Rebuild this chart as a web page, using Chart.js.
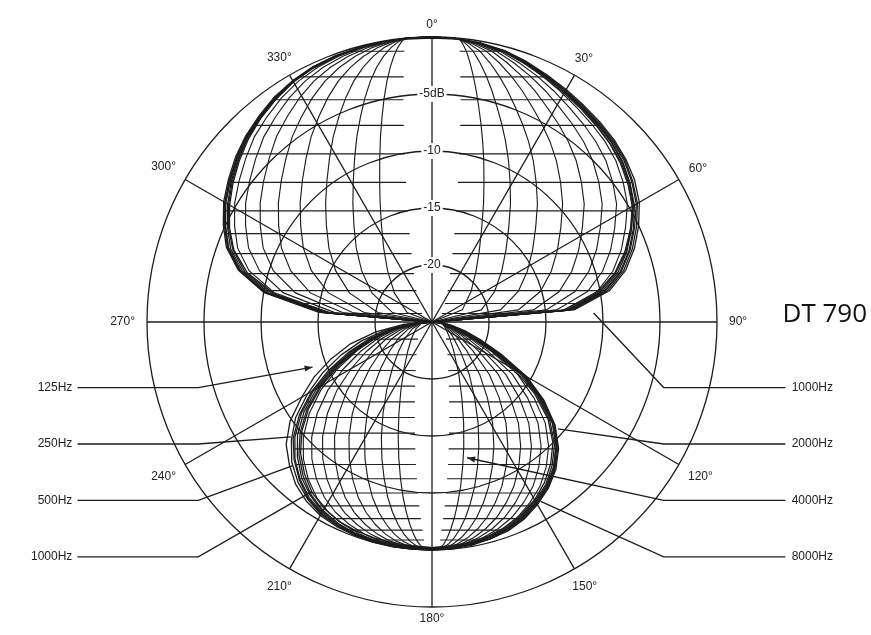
<!DOCTYPE html>
<html><head><meta charset="utf-8">
<script src="https://cdn.jsdelivr.net/npm/chart.js@4.4.1/dist/chart.umd.min.js"></script>
<style>html,body{margin:0;padding:0;background:#fff;overflow:hidden}#wrap{width:871px;height:635px;position:relative}</style>
</head><body><div id="wrap"><canvas id="c" width="871" height="635"></canvas></div>
<script>
// polar angles (degrees, clockwise from 0 = front)
const ANGLES = [0,5,10,15,20,25,30,35,40,45,50,55,60,65,70,75,80,85,90,
  95,100,105,110,115,120,125,130,135,140,145,150,155,160,165,170,175,180,
  185,190,195,200,205,210,215,220,225,230,235,240,245,250,255,260,265,270,
  275,280,285,290,295,300,305,310,315,320,325,330,335,340,345,350,355];

// sensitivity in dB per frequency
const db125 = [0,-0.05,-0.2,-0.45,-0.85,-1.3,-1.7,-2.1,-2.5,-2.9,-3.4,-4.0,-4.7,-5.7,-6.8,-8.1,-9.9,-13,-25,
  -24.5,-24,-23,-21.8,-19.5,-16.6,-14,-11.7,-10,-8.8,-7.8,-7,-6.4,-5.9,-5.6,-5.4,-5.3,-5.2,
  -5.2,-5.1,-5.1,-5.1,-5.2,-5.4,-5.8,-6.4,-7.3,-8.3,-9.8,-11.8,-13.6,-15.6,-17.6,-20,-22.5,-25,
  -15,-10,-7.4,-5.8,-4.8,-3.9,-3.2,-2.5,-1.9,-1.4,-0.9,-0.55,-0.3,-0.15,-0.1,-0.05,0];
const db250 = [0,-0.05,-0.2,-0.4,-0.8,-1.25,-1.65,-2.05,-2.4,-2.75,-3.2,-3.8,-4.5,-5.5,-6.6,-7.9,-9.7,-12.9,-25,
  -24.5,-23.8,-22.8,-21.5,-19.2,-16.2,-13.7,-11.5,-9.8,-8.6,-7.6,-6.9,-6.3,-5.8,-5.5,-5.3,-5.2,-5.1,
  -5.1,-5.1,-5.1,-5.1,-5.3,-5.5,-6.0,-6.7,-7.6,-8.9,-10.4,-12.4,-14.4,-16.5,-18.6,-20.8,-23,-25,
  -15.2,-10.1,-7.5,-5.9,-4.9,-4.0,-3.3,-2.6,-1.95,-1.45,-0.95,-0.6,-0.3,-0.2,-0.1,-0.05,0];
const db500 = [0,-0.05,-0.2,-0.4,-0.75,-1.15,-1.55,-1.9,-2.2,-2.5,-2.9,-3.5,-4.2,-5.2,-6.3,-7.6,-9.4,-12.6,-25,
  -24,-23.5,-22.6,-21.2,-18.8,-15.9,-13.5,-11.2,-9.6,-8.4,-7.5,-6.8,-6.2,-5.7,-5.4,-5.2,-5.1,-5.0,
  -5.0,-5.0,-5.0,-5.1,-5.3,-5.6,-6.1,-6.9,-7.9,-9.1,-10.8,-12.8,-15,-17.2,-19.3,-21.3,-23.3,-25,
  -15.4,-10.2,-7.6,-6.0,-5.0,-4.1,-3.35,-2.65,-2.0,-1.5,-1.0,-0.6,-0.35,-0.2,-0.1,-0.05,0];
const db1000 = [0,-0.05,-0.2,-0.4,-0.8,-1.2,-1.6,-2.0,-2.3,-2.6,-3.0,-3.6,-4.3,-5.4,-6.5,-7.8,-9.6,-12.8,-25,
  -24.5,-24,-23,-21.5,-19,-15.8,-13.4,-11.2,-9.6,-8.4,-7.4,-6.7,-6.1,-5.7,-5.4,-5.2,-5.1,-5.1,
  -5.1,-5.1,-5.1,-5.2,-5.4,-5.7,-6.2,-7.0,-8.0,-9.3,-11,-13,-15.3,-17.5,-19.5,-21.5,-23.5,-25,
  -15.5,-10.3,-7.6,-6.0,-5.0,-4.1,-3.4,-2.7,-2.0,-1.5,-1.0,-0.6,-0.35,-0.2,-0.1,-0.05,0];
const db2000 = [0,-0.05,-0.15,-0.35,-0.7,-1.1,-1.45,-1.8,-2.1,-2.4,-2.8,-3.3,-4.0,-5.0,-6.1,-7.4,-9.2,-12.4,-25,
  -24.3,-23.6,-22.5,-21,-18.5,-15.5,-13.1,-11.0,-9.4,-8.2,-7.3,-6.6,-6.0,-5.6,-5.3,-5.1,-5.0,-5.0,
  -5.0,-5.0,-5.1,-5.2,-5.5,-5.8,-6.4,-7.2,-8.3,-9.6,-11.3,-13.3,-15.6,-17.8,-19.8,-21.7,-23.6,-25,
  -15.7,-10.5,-7.8,-6.2,-5.2,-4.3,-3.5,-2.8,-2.1,-1.55,-1.05,-0.65,-0.35,-0.2,-0.1,-0.05,0];
const db4000 = [0,-0.05,-0.2,-0.45,-0.85,-1.25,-1.65,-2.0,-2.35,-2.7,-3.15,-3.8,-4.6,-5.7,-6.9,-8.3,-10.1,-13.2,-25,
  -24.2,-23.4,-22.3,-20.8,-18.6,-15.6,-13.2,-11.0,-9.5,-8.3,-7.3,-6.6,-6.0,-5.6,-5.3,-5.2,-5.1,-5.1,
  -5.1,-5.2,-5.2,-5.3,-5.5,-5.9,-6.5,-7.4,-8.5,-9.9,-11.6,-13.6,-15.8,-18,-20,-21.9,-23.7,-25,
  -16,-10.8,-8.0,-6.4,-5.3,-4.4,-3.6,-2.85,-2.15,-1.6,-1.1,-0.65,-0.4,-0.2,-0.1,-0.05,0];
const db8000 = [-0.1,-0.1,-0.25,-0.5,-0.9,-1.4,-1.8,-2.2,-2.55,-2.9,-3.3,-3.9,-4.7,-5.8,-7.0,-8.4,-10.3,-13.5,-25,
  -24,-23.2,-22,-20.5,-18.3,-15.4,-13.0,-10.9,-9.3,-8.1,-7.2,-6.5,-5.9,-5.5,-5.3,-5.2,-5.2,-5.2,
  -5.3,-5.3,-5.4,-5.5,-5.7,-6.1,-6.7,-7.6,-8.7,-10.1,-11.8,-13.8,-16,-18.2,-20.2,-22,-23.8,-25,
  -16.2,-11,-8.2,-6.5,-5.4,-4.5,-3.7,-2.95,-2.25,-1.65,-1.15,-0.7,-0.4,-0.25,-0.15,-0.1,-0.1];

const FREQS = ['125Hz','250Hz','500Hz','1000Hz','2000Hz','4000Hz','8000Hz'];
const SERIES = [db125, db250, db500, db1000, db2000, db4000, db8000];

// axis labels
const DEGREE_LABELS = [0,30,60,90,120,150,180,210,240,270,300,330];
const TICK_LABELS = {'-5':'-5dB','-10':'-10','-15':'-15','-20':'-20'};

// frequency call-outs: [angle, dB] each leader points at
const LEFT_CALLOUTS = ['125Hz','250Hz','500Hz','1000Hz'];
const LEFT_TARGETS = [[249.3,-13.8],[230.8,-9.05],[224.2,-7.4],[215.3,-6.8]];
const RIGHT_CALLOUTS = ['1000Hz','2000Hz','4000Hz','8000Hz'];
const RIGHT_TARGETS = [[86.8,-10.8],[130.3,-10.5],[165.5,-12.7],[148.8,-6.6]];
const ARROWED = {'L0':true,'R2':true};
const TITLE = 'DT 790';

const BASE = 3;
const INK = '#1c1c1c';

function lensUp(v){ v=Math.max(0,v); const c=Math.min(v,1.1); return 0.118*Math.pow(v,0.35)*(1-0.2*Math.pow(c,4)); }
function lensDown(v){ v=Math.max(0,v); const t=Math.min(v/0.8,1.3); return 0.075*Math.pow(v,0.15)*Math.max(0.05,1-0.7*t*t*t); }

const UPPER_ROWS = [0.95,0.86,0.78,0.69,0.59,0.49,0.39,0.31,0.24,0.17,0.11,0.065,0.03];
const LOWER_ROWS = [0.06,0.115,0.17,0.225,0.28,0.335,0.39,0.445,0.5,0.55,0.6,0.645,0.69,0.73,0.765];
const UPPER_MER = [0.15,0.3,0.45,0.59,0.71,0.81,0.89,0.95];
const LOWER_MER = [0.14,0.28,0.42,0.55,0.67,0.77,0.86,0.93];

const meshPlugin = {
  id:'mesh',
  afterDatasetsDraw(chart){
    const s = chart.scales.r, ctx = chart.ctx;
    const xc = s.xCenter, yc = s.yCenter, R = s.drawingArea;
    const pts = chart.getDatasetMeta(BASE).data;
    const n = pts.length;
    ctx.save();
    ctx.beginPath();
    pts.forEach((p,i)=> i ? ctx.lineTo(p.x,p.y) : ctx.moveTo(p.x,p.y));
    ctx.closePath();
    ctx.clip();
    ctx.beginPath();
    ctx.rect(0,0,chart.width,chart.height);
    ctx.moveTo(xc,yc);
    for(let k=1;k<=80;k++){ const v=1.1*k/80; ctx.lineTo(xc+R*lensUp(v), yc-R*v); }
    for(let k=80;k>=0;k--){ const v=1.1*k/80; ctx.lineTo(xc-R*lensUp(v), yc-R*v); }
    ctx.closePath();
    ctx.moveTo(xc,yc);
    for(let k=1;k<=80;k++){ const v=0.95*k/80; ctx.lineTo(xc+R*lensDown(v), yc+R*v); }
    for(let k=80;k>=0;k--){ const v=0.95*k/80; ctx.lineTo(xc-R*lensDown(v), yc+R*v); }
    ctx.closePath();
    ctx.clip('evenodd');

    ctx.strokeStyle = '#1e1e1e';
    ctx.lineWidth = 1.15;
    UPPER_ROWS.forEach(v=>{ const y=yc-R*v; ctx.beginPath(); ctx.moveTo(xc-R,y); ctx.lineTo(xc+R,y); ctx.stroke(); });
    LOWER_ROWS.forEach(v=>{ const y=yc+R*v; ctx.beginPath(); ctx.moveTo(xc-R,y); ctx.lineTo(xc+R,y); ctx.stroke(); });

    const mer = (from,to,f,sign,up)=>{
      ctx.beginPath();
      for(let i=from,k=0;i<=to;i++,k++){
        const p = pts[i%n];
        const v = up ? (yc-p.y)/R : (p.y-yc)/R;
        const L = R*(up ? lensUp(v) : lensDown(v));
        const E = Math.abs(p.x-xc);
        const x = xc + sign*(L + f*Math.max(0,E-L));
        if(k) ctx.lineTo(x,p.y); else ctx.moveTo(x,p.y);
      }
      ctx.stroke();
    };
    UPPER_MER.forEach(f=>{ mer(0,18,f,1,true); mer(54,72,f,-1,true); });
    LOWER_MER.forEach(f=>{ mer(18,36,f,1,false); mer(36,54,f,-1,false); });
    ctx.restore();
  }
};

const textPlugin = {
  id:'texts',
  afterDraw(chart){
    const s = chart.scales.r, ctx = chart.ctx;
    const xc = s.xCenter, yc = s.yCenter, R = s.drawingArea;
    const step = 360/ANGLES.length;
    ctx.save();
    ctx.fillStyle = '#222';
    ctx.font = '12px "Liberation Sans", Arial, sans-serif';
    ctx.textAlign = 'center'; ctx.textBaseline = 'middle';
    DEGREE_LABELS.forEach(d=>{
      const t = d + '°';
      const w = ctx.measureText(t).width;
      const a = d*Math.PI/180;
      const off = 6 + Math.abs(Math.sin(a))*(w/2+6) + Math.abs(Math.cos(a))*6;
      const p = s.getPointPosition(d/step, R+off);
      ctx.fillText(t, p.x, p.y);
    });

    const target = (tg)=> s.getPointPosition(tg[0]/step, s.getDistanceFromCenterForValue(tg[1]));
    const arrow = (from,to)=>{
      const ang = Math.atan2(to.y-from.y, to.x-from.x);
      ctx.beginPath();
      ctx.moveTo(to.x,to.y);
      ctx.lineTo(to.x-8*Math.cos(ang)+3*Math.sin(ang), to.y-8*Math.sin(ang)-3*Math.cos(ang));
      ctx.lineTo(to.x-8*Math.cos(ang)-3*Math.sin(ang), to.y-8*Math.sin(ang)+3*Math.cos(ang));
      ctx.closePath(); ctx.fill();
    };
    ctx.strokeStyle = INK; ctx.lineWidth = 1.3;
    LEFT_CALLOUTS.forEach((lab,i)=>{
      const y = yc + R*(0.23+0.198*i);
      const t = target(LEFT_TARGETS[i]);
      const elbow = {x: xc-0.82*R, y};
      ctx.beginPath(); ctx.moveTo(xc-1.244*R,y); ctx.lineTo(elbow.x,y); ctx.lineTo(t.x,t.y); ctx.stroke();
      if (ARROWED['L'+i]) arrow(elbow,t);
      ctx.textAlign='right'; ctx.fillText(lab, xc-1.262*R, y);
    });
    RIGHT_CALLOUTS.forEach((lab,i)=>{
      const y = yc + R*(0.23+0.198*i);
      const t = target(RIGHT_TARGETS[i]);
      const elbow = {x: xc+0.813*R, y};
      ctx.beginPath(); ctx.moveTo(xc+1.24*R,y); ctx.lineTo(elbow.x,y); ctx.lineTo(t.x,t.y); ctx.stroke();
      if (ARROWED['R'+i]) arrow(elbow,t);
      ctx.textAlign='left'; ctx.fillText(lab, xc+1.262*R, y);
    });
    ctx.fillStyle = '#111';
    ctx.font = '26px "Open Sans", "Noto Sans", sans-serif';
    ctx.textAlign = 'left';
    ctx.fillText(TITLE, xc+1.23*R, yc-0.025*R);
    ctx.restore();
  }
};

new Chart(document.getElementById('c'), {
  type:'radar',
  data:{
    labels: ANGLES.map(a=>a+'°'),
    datasets: SERIES.map((d,i)=>({
      label: FREQS[i], data: d, fill:false, borderColor: INK, borderWidth: 1.3,
      borderJoinStyle:'round', pointRadius:0, pointHoverRadius:0, tension:0
    }))
  },
  options:{
    responsive:false, animation:false, events:[],
    layout:{padding:{left:139,right:146,top:29,bottom:20}},
    plugins:{legend:{display:false}, tooltip:{enabled:false}, title:{display:false}},
    scales:{
      r:{
        min:-25, max:0, startAngle:0,
        ticks:{
          stepSize:5, color:'#222',
          font:{family:'"Liberation Sans", Arial, sans-serif', size:12},
          showLabelBackdrop:true, backdropPadding:2,
          backdropColor:(c)=> (c.tick && TICK_LABELS[String(c.tick.value)]) ? '#ffffff' : 'rgba(0,0,0,0)',
          callback:(v)=> TICK_LABELS[String(v)] || ''
        },
        grid:{circular:true, color:INK, lineWidth:1.3},
        angleLines:{display:true,
          color:(c)=> (c.index % 6 === 0) ? INK : 'rgba(0,0,0,0)',
          lineWidth:(c)=> (c.index % 6 === 0) ? 1.3 : 0},
        pointLabels:{display:false}
      }
    }
  },
  plugins:[meshPlugin, textPlugin]
});
</script>
</body></html>
